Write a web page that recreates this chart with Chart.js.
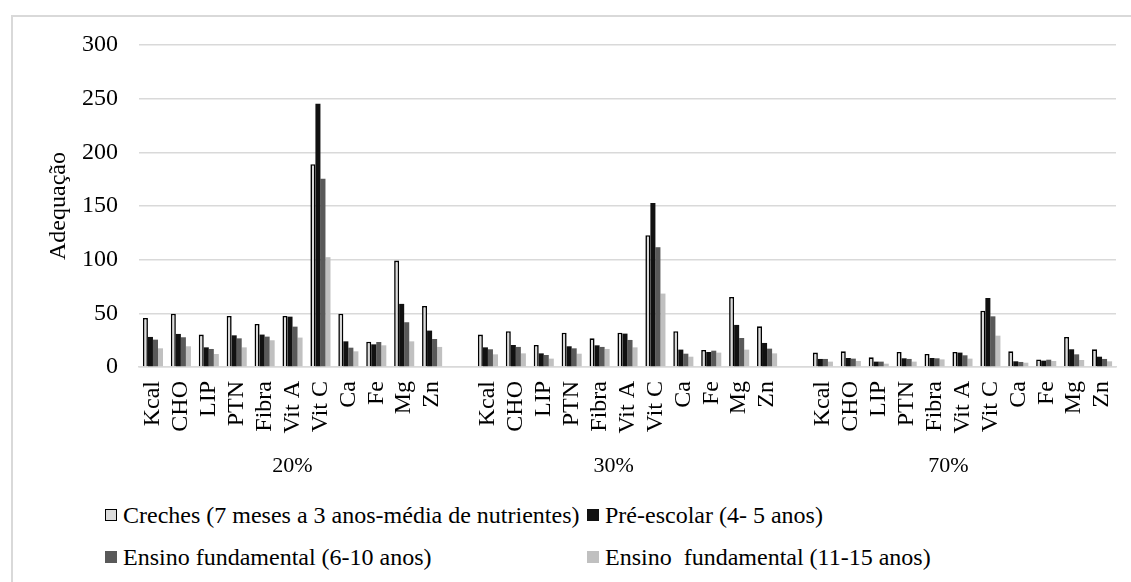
<!DOCTYPE html>
<html>
<head>
<meta charset="utf-8">
<script src="https://cdn.jsdelivr.net/npm/chart.js@4.4.1/dist/chart.umd.min.js"></script>
<style>
  html, body { margin: 0; padding: 0; background: #fff; }
  body { width: 1131px; height: 582px; position: relative; overflow: hidden; font-family: 'Liberation Serif', 'Times New Roman', serif; }
  #frame { position: absolute; left: 11px; top: 15px; width: 1200px; height: 700px; border-left: 2px solid #d9d9d9; border-top: 2px solid #d9d9d9; }
  #wrap { position: absolute; left: 0; top: 0; width: 1131px; height: 480px; }
  .legend { position: absolute; left: 105px; top: 501px; display: grid; grid-template-columns: 482px auto; row-gap: 14px; font-size: 24px; color: #000; }
  .item { display: flex; align-items: center; height: 28px; white-space: pre; }
  .box { width: 12px; height: 12px; margin-right: 6px; box-sizing: border-box; }
</style>
</head>
<body>
<div id="frame"></div>
<div id="wrap"><canvas id="myChart"></canvas></div>
<div class="legend" id="legend"></div>
<script>
const nutrients = ['Kcal', 'CHO', 'LIP', 'PTN', 'Fibra', 'Vit A', 'Vit C', 'Ca', 'Fe', 'Mg', 'Zn']
const groupLabels = ['20%', '30%', '70%']

// Creches (7 meses a 3 anos)
const creches20 = [45.7, 49.7, 30.2, 47.6, 40.1, 47.6, 189, 49.7, 23.6, 99.2, 56.9]
const creches30 = [30.2, 33.3, 20.5, 32, 26.7, 32, 122.8, 33.3, 15.9, 65.3, 37.9]
const creches70 = [13.4, 14.6, 9, 14, 12.1, 14, 52.5, 14.6, 7.1, 28, 16.5]
// Pré-escolar (4-5 anos)
const pre20 = [28, 30.8, 18.3, 29.5, 30.2, 46.9, 245.3, 23.9, 21.1, 58.8, 33.9]
const pre30 = [18.3, 20.5, 12.7, 19.3, 20.2, 31.1, 152.9, 16.2, 14, 39.2, 22.4]
const pre70 = [7.5, 8.4, 5, 8.1, 8.4, 13.4, 64.3, 5.3, 5.9, 16.5, 9.6]
// Ensino fundamental (6-10 anos)
const ens6_20 = [25.5, 27.7, 16.8, 26.7, 28.3, 37.6, 175.3, 18, 23.3, 41.7, 26.1]
const ens6_30 = [16.5, 18.7, 11.2, 17.4, 18.7, 25.2, 111.6, 12.4, 15.2, 27, 17.1]
const ens6_70 = [7.5, 7.8, 5, 7.5, 8.1, 10.9, 47.2, 4.7, 6.8, 11.8, 7.5]
// Ensino fundamental (11-15 anos)
const ens11_20 = [17.4, 19.3, 12.1, 18.3, 24.9, 27.4, 102.3, 14.6, 20.2, 23.9, 18.7]
const ens11_30 = [11.8, 12.7, 7.8, 12.4, 16.8, 18.3, 68.4, 9.6, 13.4, 16.2, 12.7]
const ens11_70 = [5, 5.6, 3.1, 5, 7.1, 7.8, 29.2, 4, 5.6, 6.5, 5.3]

const yTicks = [0, 50, 100, 150, 200, 250, 300]

// one empty category between the three groups
const join = (a, b, c) => [...a, null, ...b, null, ...c]
const labels = [...nutrients, '', ...nutrients, '', ...nutrients]

const series = [
    { label: 'Creches (7 meses a 3 anos-média de nutrientes)', data: join(creches20, creches30, creches70), bg: '#dcdcdc', border: '#000', bw: 1.6 },
    { label: 'Pré-escolar (4- 5 anos)', data: join(pre20, pre30, pre70), bg: '#111111', border: '#111111', bw: 0 },
    { label: 'Ensino fundamental (6-10 anos)', data: join(ens6_20, ens6_30, ens6_70), bg: '#595959', border: '#595959', bw: 0 },
    { label: 'Ensino  fundamental (11-15 anos)', data: join(ens11_20, ens11_30, ens11_70), bg: '#c0c0c0', border: '#c0c0c0', bw: 0 }
]

const serif = "'Liberation Serif', 'Times New Roman', serif"

const groupPlugin = {
    id: 'groupLabels',
    afterDraw(chart) {
        const x = chart.scales.x
        const c = chart.ctx
        c.save()
        c.font = '22px ' + serif
        c.fillStyle = '#000'
        c.textAlign = 'center'
        c.textBaseline = 'middle'
        groupLabels.forEach((g, i) => {
            const start = i === 0 ? 0 : i * 12 - 1
            const end = i * 12 + 10
            c.fillText(g, x.getPixelForValue((start + end) / 2), 466)
        })
        c.restore()
    }
}

new Chart(document.querySelector('#myChart'), {
    type: 'bar',
    data: {
        labels: labels,
        datasets: series.map(s => ({
            label: s.label,
            data: s.data,
            backgroundColor: s.bg,
            borderColor: s.border,
            borderWidth: s.bw,
            categoryPercentage: 0.72,
            barPercentage: 1
        }))
    },
    options: {
        responsive: true,
        maintainAspectRatio: false,
        animation: false,
        layout: { padding: { left: 44, right: 15, top: 45, bottom: 0 } },
        plugins: { legend: { display: false }, tooltip: { enabled: false } },
        scales: {
            x: {
                grid: { display: false, drawTicks: false },
                border: { color: '#d9d9d9', width: 1.5 },
                ticks: { autoSkip: false, minRotation: 90, maxRotation: 90, padding: 14, color: '#000', font: { family: serif, size: 24 } },
                afterFit(scale) {
                    scale.height = 113
                    scale.paddingLeft = 0
                    scale.paddingRight = 0
                }
            },
            y: {
                min: 0,
                max: 300,
                afterBuildTicks(scale) { scale.ticks = yTicks.map(v => ({ value: v })) },
                grid: { color: '#d9d9d9', lineWidth: 1.5, drawTicks: false },
                border: { display: false },
                ticks: { padding: 21, color: '#000', font: { family: serif, size: 24 } },
                title: { display: true, text: 'Adequação', color: '#000', padding: 0, font: { family: serif, size: 24 } },
                afterFit(scale) { scale.width = 95 }
            }
        }
    },
    plugins: [groupPlugin]
})

// legend laid out in two columns like the original
const legend = document.querySelector('#legend')
series.forEach(s => {
    const item = document.createElement('div')
    item.className = 'item'
    const box = document.createElement('span')
    box.className = 'box'
    box.style.background = s.bg
    box.style.border = s.bw ? '1.6px solid #000' : 'none'
    item.appendChild(box)
    item.appendChild(document.createTextNode(s.label))
    legend.appendChild(item)
})
</script>
</body>
</html>
